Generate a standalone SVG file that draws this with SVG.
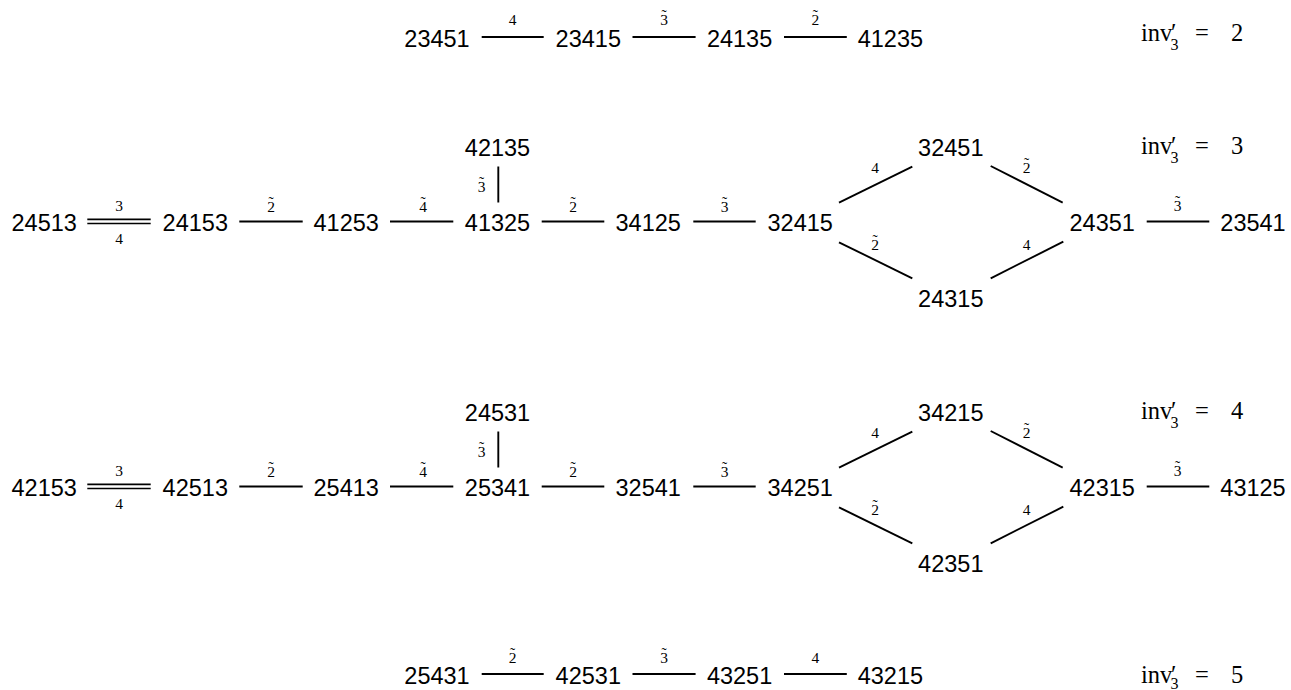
<svg xmlns="http://www.w3.org/2000/svg" width="1291" height="690" viewBox="0 0 1291 690">
<style>
.n{font-family:"Liberation Sans",Arial,sans-serif;font-size:23.5px;text-anchor:middle;fill:#000}
.l{font-family:"Liberation Serif","Times New Roman",serif;font-size:15.5px;text-anchor:middle;fill:#000}
.m{font-family:"Liberation Serif","Times New Roman",serif;font-size:24.5px;fill:#000}
.s{font-size:16px}
.e{stroke:#000;stroke-width:1.9;fill:none}
.d{stroke:#000;stroke-width:1.6;fill:none}
</style>
<rect width="1291" height="690" fill="#fff"/>
<g id="connectors">
<line class="e" x1="481.7" y1="37" x2="543.7" y2="37"/>
<line class="e" x1="632.5" y1="37" x2="695.6" y2="37"/>
<line class="e" x1="784" y1="37" x2="846.8" y2="37"/>
<text class="l" x="512.7" y="25">4</text>
<text class="l" x="664" y="25">3<tspan x="664" y="20">˜</tspan></text>
<text class="l" x="815.4" y="25">2<tspan x="815.4" y="20">˜</tspan></text>
<line class="d" x1="87.3" y1="219.4" x2="150.7" y2="219.4"/>
<line class="d" x1="87.3" y1="223.5" x2="150.7" y2="223.5"/>
<text class="l" x="119" y="210.5">3</text>
<text class="l" x="119" y="244">4</text>
<line class="e" x1="239.3" y1="221.5" x2="302.7" y2="221.5"/>
<text class="l" x="271" y="211.5">2<tspan x="271" y="206.5">˜</tspan></text>
<line class="e" x1="390" y1="221.5" x2="453.3" y2="221.5"/>
<text class="l" x="423" y="211.5">4<tspan x="423" y="206.5">˜</tspan></text>
<line class="e" x1="498.3" y1="166.5" x2="498.3" y2="202.5"/>
<text class="l" x="481.7" y="191.5">3<tspan x="481.7" y="186.5">˜</tspan></text>
<line class="e" x1="541.7" y1="221.5" x2="604.3" y2="221.5"/>
<text class="l" x="573" y="211.5">2<tspan x="573" y="206.5">˜</tspan></text>
<line class="e" x1="693.3" y1="221.5" x2="755.7" y2="221.5"/>
<text class="l" x="724.5" y="211.5">3<tspan x="724.5" y="206.5">˜</tspan></text>
<line class="e" x1="839" y1="202.7" x2="912.3" y2="166.7"/>
<text class="l" x="875" y="172.7">4</text>
<line class="e" x1="990.7" y1="166" x2="1062.7" y2="202.7"/>
<text class="l" x="1026.7" y="173">2<tspan x="1026.7" y="168">˜</tspan></text>
<line class="e" x1="839" y1="242.3" x2="912.3" y2="278.3"/>
<text class="l" x="875" y="250">2<tspan x="875" y="245">˜</tspan></text>
<line class="e" x1="990.7" y1="278.3" x2="1063.3" y2="241.7"/>
<text class="l" x="1026.7" y="250">4</text>
<line class="e" x1="1146.7" y1="221.5" x2="1209.3" y2="221.5"/>
<text class="l" x="1177.7" y="211">3<tspan x="1177.7" y="206">˜</tspan></text>
<line class="d" x1="87.3" y1="484.4" x2="150.7" y2="484.4"/>
<line class="d" x1="87.3" y1="488.5" x2="150.7" y2="488.5"/>
<text class="l" x="119" y="475.5">3</text>
<text class="l" x="119" y="509">4</text>
<line class="e" x1="239.3" y1="486.5" x2="302.7" y2="486.5"/>
<text class="l" x="271" y="476.5">2<tspan x="271" y="471.5">˜</tspan></text>
<line class="e" x1="390" y1="486.5" x2="453.3" y2="486.5"/>
<text class="l" x="423" y="476.5">4<tspan x="423" y="471.5">˜</tspan></text>
<line class="e" x1="498.3" y1="431.5" x2="498.3" y2="467.5"/>
<text class="l" x="481.7" y="456.5">3<tspan x="481.7" y="451.5">˜</tspan></text>
<line class="e" x1="541.7" y1="486.5" x2="604.3" y2="486.5"/>
<text class="l" x="573" y="476.5">2<tspan x="573" y="471.5">˜</tspan></text>
<line class="e" x1="693.3" y1="486.5" x2="755.7" y2="486.5"/>
<text class="l" x="724.5" y="476.5">3<tspan x="724.5" y="471.5">˜</tspan></text>
<line class="e" x1="839" y1="467.7" x2="912.3" y2="431.7"/>
<text class="l" x="875" y="437.7">4</text>
<line class="e" x1="990.7" y1="431" x2="1062.7" y2="467.7"/>
<text class="l" x="1026.7" y="438">2<tspan x="1026.7" y="433">˜</tspan></text>
<line class="e" x1="839" y1="507.3" x2="912.3" y2="543.3"/>
<text class="l" x="875" y="515">2<tspan x="875" y="510">˜</tspan></text>
<line class="e" x1="990.7" y1="543.3" x2="1063.3" y2="506.7"/>
<text class="l" x="1026.7" y="515">4</text>
<line class="e" x1="1146.7" y1="486.5" x2="1209.3" y2="486.5"/>
<text class="l" x="1177.7" y="476">3<tspan x="1177.7" y="471">˜</tspan></text>
<line class="e" x1="481.7" y1="674" x2="543.7" y2="674"/>
<line class="e" x1="632.5" y1="674" x2="695.6" y2="674"/>
<line class="e" x1="784" y1="674" x2="846.8" y2="674"/>
<text class="l" x="512.7" y="663">2<tspan x="512.7" y="658">˜</tspan></text>
<text class="l" x="664" y="663">3<tspan x="664" y="658">˜</tspan></text>
<text class="l" x="815.4" y="663">4</text>
</g>
<g id="n23451"><text class="n" x="437" y="47">23451</text></g>
<g id="n23415"><text class="n" x="588.3" y="47">23415</text></g>
<g id="n24135"><text class="n" x="739.6" y="47">24135</text></g>
<g id="n41235"><text class="n" x="890.4" y="47">41235</text></g>
<g id="inv2"><text class="m" x="1141" y="41">inv<tspan x="1171" y="41">′</tspan><tspan class="s" x="1170.5" y="49.5">3</tspan><tspan x="1195" y="41">=</tspan><tspan x="1231" y="41">2</tspan></text></g>
<g id="n24513"><text class="n" x="44.2" y="231">24513</text></g>
<g id="n24153"><text class="n" x="195.3" y="231">24153</text></g>
<g id="n41253"><text class="n" x="346.2" y="231">41253</text></g>
<g id="n41325"><text class="n" x="497.5" y="231">41325</text></g>
<g id="n42135"><text class="n" x="497.5" y="155.7">42135</text></g>
<g id="n34125"><text class="n" x="648.2" y="231">34125</text></g>
<g id="n32415"><text class="n" x="800.2" y="231">32415</text></g>
<g id="n32451"><text class="n" x="950.8" y="156">32451</text></g>
<g id="n24315"><text class="n" x="950.8" y="306.7">24315</text></g>
<g id="n24351"><text class="n" x="1102.2" y="231">24351</text></g>
<g id="n23541"><text class="n" x="1253" y="231">23541</text></g>
<g id="inv3"><text class="m" x="1141" y="154.3">inv<tspan x="1171" y="154.3">′</tspan><tspan class="s" x="1170.5" y="162.8">3</tspan><tspan x="1195" y="154.3">=</tspan><tspan x="1231" y="154.3">3</tspan></text></g>
<g id="n42153"><text class="n" x="44.2" y="496">42153</text></g>
<g id="n42513"><text class="n" x="195.3" y="496">42513</text></g>
<g id="n25413"><text class="n" x="346.2" y="496">25413</text></g>
<g id="n25341"><text class="n" x="497.5" y="496">25341</text></g>
<g id="n24531"><text class="n" x="497.5" y="420.7">24531</text></g>
<g id="n32541"><text class="n" x="648.2" y="496">32541</text></g>
<g id="n34251"><text class="n" x="800.2" y="496">34251</text></g>
<g id="n34215"><text class="n" x="950.8" y="421">34215</text></g>
<g id="n42351"><text class="n" x="950.8" y="571.7">42351</text></g>
<g id="n42315"><text class="n" x="1102.2" y="496">42315</text></g>
<g id="n43125"><text class="n" x="1253" y="496">43125</text></g>
<g id="inv4"><text class="m" x="1141" y="419.3">inv<tspan x="1171" y="419.3">′</tspan><tspan class="s" x="1170.5" y="427.8">3</tspan><tspan x="1195" y="419.3">=</tspan><tspan x="1231" y="419.3">4</tspan></text></g>
<g id="n25431"><text class="n" x="437" y="684">25431</text></g>
<g id="n42531"><text class="n" x="588.3" y="684">42531</text></g>
<g id="n43251"><text class="n" x="739.6" y="684">43251</text></g>
<g id="n43215"><text class="n" x="890.4" y="684">43215</text></g>
<g id="inv5"><text class="m" x="1141" y="683.3">inv<tspan x="1171" y="683.3">′</tspan><tspan class="s" x="1170.5" y="689">3</tspan><tspan x="1195" y="683.3">=</tspan><tspan x="1231" y="683.3">5</tspan></text></g>
</svg>
